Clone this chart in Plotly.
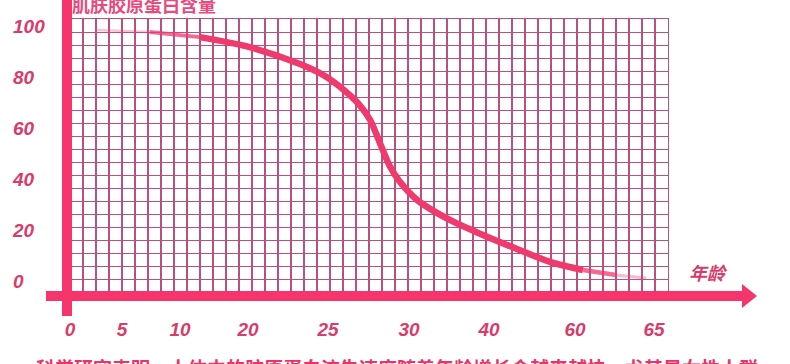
import numpy as np
import plotly.graph_objects as go

# ---------------- data ----------------
tick_ages = [0, 5, 10, 20, 25, 30, 40, 60, 65]          # x tick labels (age)
y_tick_vals = [0, 20, 40, 60, 80, 100]                   # y tick labels
curve_age = [2.6, 7.4, 12.9, 20.1, 23.25, 24.8, 26.05, 27.0, 27.6, 28.2,
             28.8, 29.4, 31.0, 35.1, 39.25, 46.5, 54.2, 60.5, 62.6, 64.5]
curve_val = [98.7, 97.9, 95.9, 92.0, 85.3, 80.6, 74.7, 68.8, 63.3, 54.3,
             45.3, 39.3, 31.9, 24.0, 18.1, 12.6, 7.5, 4.3, 2.4, 1.2]

title_text = "肌肤胶原蛋白含量"
xname_text = "年龄"
note_text = "科学研究表明，人体中的胶原蛋白流失速度随着年龄增长会越来越快，尤其是女性人群"

# ---------------- layout geometry (pixels) ----------------
W, H = 790, 364
ML, MB = 10, 48
PW, PH = W - ML, H - MB          # plot area 10..790, 0..316
X0, CW = 70, 13                  # grid column origin and width (px)
Y0, YS = 281, 2.543              # pixel of value 0 and px per unit
tick_cols = [0, 4, 8.46, 13.69, 19.85, 26.08, 32.23, 38.85, 44.92]  # tick positions in grid columns
N_COLS = 46
GRID_TOP, GRID_BOT = 19.3, 292.3

def cx(px):
    return (px - X0) / CW

def vy(p):
    return (Y0 - p) / YS

def paperx(px):
    return (px - ML) / PW

def papery(p):
    return (PH - p) / PH

# map ages onto the (non-linear) age axis
curve_x = np.interp(curve_age, tick_ages, tick_cols)
curve_y = np.array(curve_val)

BAR = "#f5356b"
LINE = "#ef3a6d"
GRID = "#b9507f"
TXT = "#d83c6b"
DIG = dict(family="Liberation Sans, Arial, sans-serif", size=19, color=TXT,
           weight="bold", style="italic")
CJK = "Noto Sans CJK SC, sans-serif"

fig = go.Figure()

# empty trace to keep the label subplot alive
fig.add_trace(go.Scatter(x=[None], y=[None], xaxis="x", yaxis="y",
                         showlegend=False, hoverinfo="skip"))

# curve segments (fading ends)
n = len(curve_x)
segs = [
    (slice(0, 2), 2.5, 0.30),
    (slice(1, 3), 4.0, 0.75),
    (slice(2, n - 2), 6.5, 1.0),
    (slice(n - 3, n - 1), 4.5, 0.75),
    (slice(n - 2, n), 3.0, 0.35),
]
for sl, wdt, op in segs:
    fig.add_trace(go.Scatter(
        x=curve_x[sl], y=curve_y[sl], xaxis="x2", yaxis="y2",
        mode="lines", line=dict(color=LINE, width=wdt, shape="spline", smoothing=0.8),
        opacity=op, showlegend=False, hoverinfo="skip"))

fig.update_layout(
    width=W, height=H,
    margin=dict(l=ML, r=0, t=0, b=MB),
    paper_bgcolor="white", plot_bgcolor="white",
    showlegend=False,
    xaxis=dict(domain=[0, 1], range=[cx(ML), cx(W)], showgrid=False, zeroline=False,
               showline=False, ticks="", tickmode="array", tickvals=tick_cols,
               ticktext=[str(a) for a in tick_ages], tickfont=DIG, fixedrange=True),
    yaxis=dict(domain=[0, 1], range=[vy(PH), vy(0)], showgrid=False, zeroline=False,
               showline=False, ticks="", tickmode="array", tickvals=y_tick_vals,
               ticktext=[str(v) for v in y_tick_vals], ticklabelposition="inside",
               tickfont=DIG, fixedrange=True),
    xaxis2=dict(domain=[paperx(X0), paperx(X0 + N_COLS * CW)], range=[0, N_COLS],
                anchor="y2", showgrid=True, gridcolor=GRID, gridwidth=1.4,
                tick0=0, dtick=1, showticklabels=False, ticks="", zeroline=False,
                showline=True, mirror=True, linecolor=GRID, linewidth=1.4, fixedrange=True),
    yaxis2=dict(domain=[papery(GRID_BOT), papery(GRID_TOP)],
                range=[vy(GRID_BOT), vy(GRID_TOP)], anchor="x2",
                showgrid=True, gridcolor=GRID, gridwidth=1.4,
                tick0=vy(GRID_BOT - CW), dtick=CW / YS, showticklabels=False, ticks="",
                zeroline=False, showline=True, mirror=True, linecolor=GRID,
                linewidth=1.4, fixedrange=True),
)

# axis bars and arrow
fig.add_shape(type="rect", xref="paper", yref="paper",
              x0=paperx(62), x1=paperx(72), y0=papery(316), y1=papery(-5),
              fillcolor=BAR, line_width=0, layer="above")
fig.add_shape(type="rect", xref="paper", yref="paper",
              x0=paperx(46), x1=paperx(744), y0=papery(301), y1=papery(291),
              fillcolor=BAR, line_width=0, layer="above")
fig.add_shape(type="path", xref="paper", yref="paper",
              path=f"M {paperx(742)},{papery(284)} L {paperx(757)},{papery(296)} "
                   f"L {paperx(742)},{papery(308)} Z",
              fillcolor=BAR, line_width=0, layer="above")

fig.add_annotation(text=title_text, xref="paper", yref="paper",
                   x=paperx(144), y=papery(4), xanchor="center", yanchor="middle",
                   showarrow=False,
                   font=dict(family=CJK, size=18, color="#e84a7e", weight="bold"))
fig.add_annotation(text=xname_text, xref="paper", yref="paper",
                   x=paperx(708), y=papery(272), xanchor="center", yanchor="middle",
                   showarrow=False,
                   font=dict(family=CJK, size=18, color=TXT, weight="bold", style="italic"))
fig.add_annotation(text=note_text, xref="paper", yref="paper",
                   x=paperx(397), y=papery(367), xanchor="center", yanchor="middle",
                   showarrow=False,
                   font=dict(family=CJK, size=19, color="#e8336b", weight="bold"))

fig.write_html("out.html",
               config={"displayModeBar": False, "staticPlot": True},
               post_script="document.body.style.margin='0';"
                           "document.body.style.overflow='hidden';")
